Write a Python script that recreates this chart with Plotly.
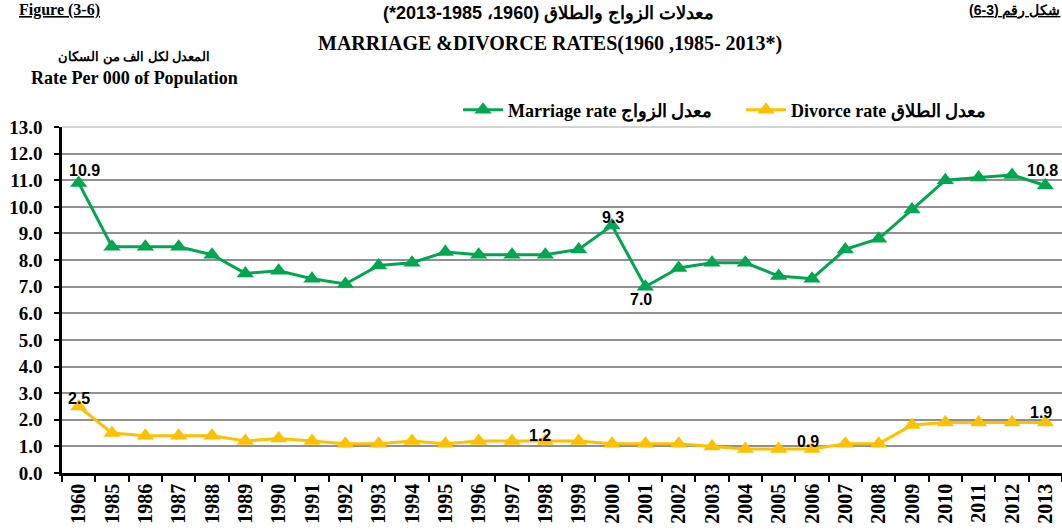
import plotly.graph_objects as go

years = ["1960", "1985", "1986", "1987", "1988", "1989", "1990", "1991", "1992", "1993",
         "1994", "1995", "1996", "1997", "1998", "1999", "2000", "2001", "2002", "2003",
         "2004", "2005", "2006", "2007", "2008", "2009", "2010", "2011", "2012", "2013"]
marriage = [10.9, 8.5, 8.5, 8.5, 8.2, 7.5, 7.6, 7.3, 7.1, 7.8,
            7.9, 8.3, 8.2, 8.2, 8.2, 8.4, 9.3, 7.0, 7.7, 7.9,
            7.9, 7.4, 7.3, 8.4, 8.8, 9.9, 11.0, 11.1, 11.2, 10.8]
divorce = [2.5, 1.5, 1.4, 1.4, 1.4, 1.2, 1.3, 1.2, 1.1, 1.1,
           1.2, 1.1, 1.2, 1.2, 1.2, 1.2, 1.1, 1.1, 1.1, 1.0,
           0.9, 0.9, 0.9, 1.1, 1.1, 1.8, 1.9, 1.9, 1.9, 1.9]
y_ticks = [0.0, 1.0, 2.0, 3.0, 4.0, 5.0, 6.0, 7.0, 8.0, 9.0, 10.0, 11.0, 12.0, 13.0]

# labelled points: year -> (xshift, yshift) in pixels
marriage_labels = {"1960": (6, 12), "2000": (1, 8), "2001": (-4, -13), "2013": (-3, 15)}
divorce_labels = {"1960": (0, 8), "1998": (-5, 6), "2006": (-4, 8), "2013": (-4, 10)}

GREEN = "#00A650"
YELLOW = "#FFC000"
SERIF = "Liberation Serif"
SANS = "Liberation Sans"

fig = go.Figure()
fig.add_trace(go.Scatter(
    x=years, y=marriage, mode="lines+markers", name="Marriage rate معدل الزواج",
    line=dict(color=GREEN, width=3),
    marker=dict(symbol="triangle-up", size=15, color=GREEN),
    cliponaxis=False,
))
fig.add_trace(go.Scatter(
    x=years, y=divorce, mode="lines+markers", name="Divorce rate معدل الطلاق",
    line=dict(color=YELLOW, width=3),
    marker=dict(symbol="triangle-up", size=15, color=YELLOW),
    cliponaxis=False,
))

for values, which in ((marriage, marriage_labels), (divorce, divorce_labels)):
    for i, (yr, v) in enumerate(zip(years, values)):
        if yr in which:
            xs, ys = which[yr]
            fig.add_annotation(x=i, y=v, xref="x", yref="y", text=f"{v:.1f}",
                               showarrow=False, xshift=xs, yshift=ys,
                               font=dict(family=SANS, size=16, color="black", weight="bold"))

fig.update_layout(
    width=1062, height=531,
    margin=dict(l=62, r=0, t=127, b=58),
    paper_bgcolor="white", plot_bgcolor="white",
    font=dict(family=SERIF, color="black"),
    legend=dict(orientation="h", x=0.396, y=1.049, xanchor="left", yanchor="middle",
                font=dict(family=SERIF, size=18, color="black", weight="bold"),
                itemwidth=40, entrywidth=228, tracegroupgap=0, bgcolor="rgba(0,0,0,0)"),
    showlegend=True,
)
fig.update_xaxes(
    type="category", range=[-0.5, 29.5], automargin=False,
    tickangle=-90, tickfont=dict(family=SERIF, size=20, color="black", weight="bold"),
    showline=True, linecolor="black", linewidth=2.5,
    ticks="outside", tickson="boundaries", ticklen=6, tickcolor="black", tickwidth=2,
    showgrid=False,
)
fig.update_yaxes(
    range=[0, 13], tickvals=y_ticks, ticktext=[f"{v:.1f}" for v in y_ticks], automargin=False,
    tickfont=dict(family=SERIF, size=19, color="black", weight="bold"),
    showline=True, linecolor="black", linewidth=2.5,
    ticks="outside", ticklen=5, tickcolor="black", tickwidth=2, ticklabelstandoff=8,
    showgrid=True, gridcolor="#909090", gridwidth=1.5, zeroline=False,
)
# the top gridline is drawn lighter in the reference
fig.add_shape(type="line", xref="paper", yref="paper", x0=0, x1=1, y0=1, y1=1,
              line=dict(color="#d4d4d4", width=2))


def ann(text, x, y, size, family=SERIF, xanchor="center", yanchor="middle"):
    fig.add_annotation(text=text, x=x, y=y, xref="paper", yref="paper",
                       xanchor=xanchor, yanchor=yanchor, showarrow=False,
                       font=dict(family=family, size=size, color="black", weight="bold"))


ann("معدلات الزواج والطلاق (1960، 1985-2013*)", 0.486, 1.327, 18, family=SANS)
ann("MARRIAGE &DIVORCE RATES(1960 ,1985- 2013*)", 0.488, 1.240, 20)
ann("المعدل لكل الف من السكان", 0.072, 1.202, 13, family=SANS)
ann("Rate Per 000 of Population", 0.072, 1.142, 18)
ann("<u>Figure (3-6)</u>", -0.045, 1.337, 16, xanchor="left")
ann("<u>شكل رقم (3-6)</u>", 1.0, 1.337, 14, family=SANS, xanchor="right")

fig.write_html("out.html", config={"displayModeBar": False},
               post_script="document.body.style.margin='0';document.body.style.overflow='hidden';")
